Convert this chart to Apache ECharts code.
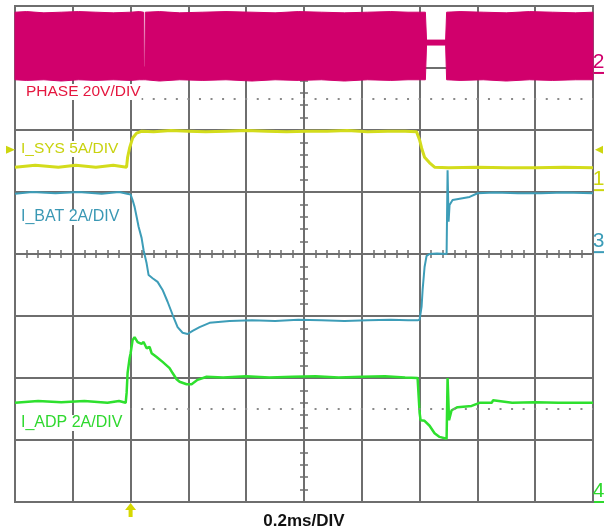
<!DOCTYPE html>
<html><head><meta charset="utf-8">
<script src="https://cdn.jsdelivr.net/npm/echarts@6/dist/echarts.min.js"></script>
<style>html,body{margin:0;padding:0;background:#fff}#c{width:608px;height:532px}</style>
</head><body><div id="c"></div>
<script>
// Time in µs (0.2 ms/DIV, trigger at 0); amplitude in screen divisions (screen centre = 0)
const timeTicks = [-400, -200, 0, 200, 400, 600, 800, 1000, 1200, 1400, 1600];
const divTicks = [-4, -3, -2, -1, 0, 1, 2, 3, 4];

// PHASE 20V/DIV (switch node: drawn as its switching envelope)
const phaseT =     [-400,-360,-300,-240,-180,-120,-60,0,30,45,46.5,49.5,51,100,170,250,330,420,500,580,660,740,820,900,960,1020,1024,1090,1093.5,1140,1220,1300,1380,1460,1540,1600];
const phaseUpper = [3.90,3.91,3.89,3.90,3.91,3.90,3.89,3.90,3.91,3.90,3.02,3.02,3.90,3.91,3.89,3.90,3.91,3.90,3.89,3.91,3.90,3.89,3.90,3.91,3.90,3.90,3.45,3.45,3.90,3.91,3.90,3.89,3.91,3.90,3.89,3.90];
const phaseLower = [2.81,2.80,2.81,2.79,2.81,2.80,2.81,2.80,2.81,2.81,2.81,2.81,2.81,2.79,2.81,2.80,2.81,2.79,2.81,2.80,2.81,2.79,2.81,2.80,2.81,2.81,3.37,3.37,2.81,2.80,2.81,2.79,2.81,2.80,2.81,2.81];

// I_SYS 5A/DIV
const sysT = [-400,-330,-326,-250,-190,-186,-120,-60,-56,-14,-10.4,-3.5,6.9,20.8,38,80,140,200,260,330,400,470,540,610,680,750,820,890,950,989.6,1000,1006.9,1017.2,1034.5,1051.8,1100,1200,1300,1400,1500,1600];
const sysV = [1.40,1.43,1.40,1.40,1.43,1.40,1.40,1.43,1.40,1.40,1.56,1.71,1.87,1.95,1.98,1.97,1.99,1.98,1.97,1.98,1.99,1.98,1.97,1.98,1.98,1.99,1.97,1.98,1.98,1.97,1.84,1.71,1.56,1.47,1.40,1.39,1.40,1.39,1.39,1.40,1.39];

// I_BAT 2A/DIV
const batT = [-400,-340,-336,-260,-180,-176,-100,-40,-36,0,6.9,13.8,20.8,27.7,38,45,55.4,62.3,76.1,93.4,110.7,128,145.3,162.6,179.9,197.2,214.5,238.7,273.3,342.5,420,500,580,660,740,820,900,960,993,1000,1006.9,1010.4,1017.2,1024.1,1034.5,1060,1093.4,1096.8,1100.3,1103.7,1114.1,1173,1200.6,1260,1340,1380,1384,1420,1500,1600];
const batV = [0.97,1.00,0.97,0.98,1.00,0.97,0.97,1.00,0.97,0.96,0.87,0.76,0.60,0.44,0.26,0.06,-0.15,-0.34,-0.39,-0.45,-0.58,-0.77,-0.98,-1.18,-1.27,-1.29,-1.24,-1.18,-1.11,-1.08,-1.07,-1.08,-1.06,-1.07,-1.08,-1.07,-1.06,-1.07,-1.07,-1.06,-0.85,-0.58,-0.21,-0.03,0.00,0.01,0.00,1.35,0.52,0.79,0.87,0.92,0.98,0.99,0.98,0.98,0.95,0.98,0.99,0.98];

// I_ADP 2A/DIV
const adpT = [-400,-320,-316,-240,-160,-156,-80,-40,-36,-17,-13.8,-10.4,-3.5,0,6.9,13.8,24.2,31.1,38,45,55.4,65.7,72.7,90,110.7,134.9,145.3,159.2,169.5,193.8,211,231.8,263,320,400,480,560,640,720,800,880,950,993,996.5,1000,1003.4,1017.2,1034.5,1051.8,1069.1,1093.4,1096.8,1101.9,1110.7,1131.4,1179.9,1207.5,1250,1254,1320,1400,1480,1520,1524,1600];
const adpV = [-2.40,-2.37,-2.40,-2.39,-2.37,-2.40,-2.40,-2.37,-2.40,-2.40,-2.24,-1.92,-1.68,-1.60,-1.39,-1.34,-1.42,-1.39,-1.45,-1.42,-1.52,-1.50,-1.60,-1.66,-1.74,-1.84,-1.92,-2.02,-2.06,-2.10,-2.10,-2.03,-1.98,-1.99,-1.97,-1.99,-1.98,-1.97,-1.99,-1.98,-1.97,-1.99,-2.00,-2.02,-2.56,-2.68,-2.69,-2.77,-2.89,-2.95,-2.98,-2.00,-2.68,-2.52,-2.47,-2.45,-2.40,-2.40,-2.36,-2.40,-2.39,-2.40,-2.40,-2.37,-2.40];

// Cursor dotted lines (divisions) and channel reference markers
const cursorLevels = [2.5, -2.5];
const triggerTime = 0;
const triggerLevel = 1.68;
const channelMarks = [
  {name: '2', level: 2.92, color: '#d1006c'},
  {name: '1', level: 1.03, color: '#cdd60f'},
  {name: '3', level: 0.03, color: '#3d9db8'},
  {name: '4', level: -4.0, color: '#2ed82e'}
];
const labels = [
  {text: 'PHASE 20V/DIV', x: 25, y: 92, color: '#e5173f', size: 15.5},
  {text: 'I_SYS 5A/DIV', x: 20, y: 149, color: '#c8d20e', size: 15.5},
  {text: 'I_BAT 2A/DIV', x: 20, y: 217, color: '#3a98b4', size: 16},
  {text: 'I_ADP 2A/DIV', x: 20, y: 423, color: '#2ed82e', size: 16}
];

const zip = (a, b) => a.map((t, i) => [t, b[i]]);
const gridGray = '#6e6e6e';
const FONT = '"Liberation Sans", Arial, Helvetica, sans-serif';

const chart = echarts.init(document.getElementById('c'), null, {renderer: 'canvas'});

const xBase = {
  type: 'value', gridIndex: 0,
  min: timeTicks[0], max: timeTicks[timeTicks.length - 1], interval: timeTicks[1] - timeTicks[0],
  axisLabel: {show: false}, position: 'bottom'
};
const yBase = {
  type: 'value', gridIndex: 0,
  min: divTicks[0], max: divTicks[divTicks.length - 1], interval: 1,
  axisLabel: {show: false}
};
const tickStyle = {color: gridGray, width: 1.5};

const option = {
  animation: false,
  backgroundColor: '#fff',
  grid: {left: 15, right: 15, top: 6, bottom: 30, show: true, borderColor: gridGray, borderWidth: 2, backgroundColor: '#fff'},
  xAxis: [
    Object.assign({}, xBase, {
      axisLine: {show: true, onZero: true, lineStyle: {color: gridGray, width: 2}},
      axisTick: {show: true, inside: true, length: 4, lineStyle: tickStyle},
      minorTick: {show: true, splitNumber: 5, length: 4, lineStyle: tickStyle},
      splitLine: {show: true, lineStyle: {color: gridGray, width: 2}}
    }),
    Object.assign({}, xBase, {
      axisLine: {show: true, onZero: true, lineStyle: {color: gridGray, width: 2}},
      axisTick: {show: true, inside: false, length: 4, lineStyle: tickStyle},
      minorTick: {show: true, splitNumber: 5, length: 4, lineStyle: tickStyle},
      splitLine: {show: false}
    })
  ],
  yAxis: [
    Object.assign({}, yBase, {
      axisLine: {show: false, onZero: false}, axisTick: {show: false},
      splitLine: {show: true, lineStyle: {color: gridGray, width: 2}}
    }),
    Object.assign({}, yBase, {
      position: 'left', offset: -289,
      axisLine: {show: true, onZero: false, lineStyle: {color: gridGray, width: 2}},
      axisTick: {show: true, inside: true, length: 4, lineStyle: tickStyle},
      minorTick: {show: true, splitNumber: 5, length: 4, lineStyle: tickStyle},
      splitLine: {show: false}
    }),
    Object.assign({}, yBase, {
      position: 'left', offset: -289,
      axisLine: {show: true, onZero: false, lineStyle: {color: gridGray, width: 2}},
      axisTick: {show: true, inside: false, length: 4, lineStyle: tickStyle},
      minorTick: {show: true, splitNumber: 5, length: 4, lineStyle: tickStyle},
      splitLine: {show: false}
    })
  ],
  series: [
    {
      name: 'PHASE', type: 'custom', silent: true, z: 3,
      data: phaseT.map((t, i) => [t, phaseUpper[i], phaseLower[i]]),
      encode: {x: 0, y: [1, 2]},
      renderItem: function (params, api) {
        if (params.dataIndex !== 0) return null;
        const top = phaseT.map((t, i) => api.coord([t, phaseUpper[i]]));
        const bot = phaseT.map((t, i) => api.coord([t, phaseLower[i]])).reverse();
        return {
          type: 'polygon',
          shape: {points: top.concat(bot)},
          style: {fill: '#d1006c', stroke: '#d1006c', lineWidth: 1}
        };
      }
    },
    {
      name: 'I_SYS', type: 'line', symbol: 'none', silent: true,
      data: zip(sysT, sysV),
      lineStyle: {width: 3, color: '#d3dc1c'},
      markLine: {
        silent: true, symbol: 'none', label: {show: false},
        lineStyle: {type: [2, 9.56], dashOffset: 1, color: '#8a8a8a', width: 2},
        data: cursorLevels.map(v => [{coord: [0, v]}, {coord: [timeTicks[timeTicks.length - 1], v]}])
      }
    },
    {
      name: 'I_BAT', type: 'line', symbol: 'none', silent: true,
      data: zip(batT, batV),
      lineStyle: {width: 2, color: '#3d9db8'}
    },
    {
      name: 'I_ADP', type: 'line', symbol: 'none', silent: true,
      data: zip(adpT, adpV),
      lineStyle: {width: 2.5, color: '#2ee02e'}
    }
  ]
};
chart.setOption(option);

// Decorations positioned from the axes
const toPx = (t, v) => chart.convertToPixel({gridIndex: 0}, [t, v]);
const right = toPx(timeTicks[timeTicks.length - 1], 0)[0];
const left = toPx(timeTicks[0], 0)[0];
const graphics = [];

labels.forEach(l => graphics.push({
  type: 'text', z: 50,
  style: {x: l.x, y: l.y, text: l.text, fill: l.color, font: l.size + 'px ' + FONT,
          align: 'left', verticalAlign: 'middle', backgroundColor: '#fff', padding: [0, 1]}
}));

graphics.push({
  type: 'text', z: 50,
  style: {x: (left + right) / 2, y: 521, text: '0.2ms/DIV', fill: '#111',
          font: 'bold 17px ' + FONT, align: 'center', verticalAlign: 'middle'}
});

channelMarks.forEach(c => {
  const y = toPx(0, c.level)[1];
  graphics.push({
    type: 'text', z: 50,
    style: {x: right + 5.5, y: y - 11, text: c.name, fill: c.color,
            font: '21px "Liberation Sans Narrow", ' + FONT, align: 'center', verticalAlign: 'middle'}
  });
  graphics.push({type: 'rect', z: 50, shape: {x: right + 1, y: y - 1, width: 10, height: 2}, style: {fill: c.color}});
});

// trigger level markers (left and right) and trigger time marker (bottom)
const ty = toPx(0, triggerLevel)[1];
graphics.push({type: 'polygon', z: 50, shape: {points: [[left - 9, ty - 4], [left, ty], [left - 9, ty + 4]]}, style: {fill: '#cdd60f'}});
graphics.push({type: 'polygon', z: 50, shape: {points: [[right + 10, ty - 4], [right + 2, ty], [right + 10, ty + 4]]}, style: {fill: '#cdd60f'}});
const tx = toPx(triggerTime, -4)[0];
const by = toPx(triggerTime, -4)[1];
graphics.push({
  type: 'polygon', z: 50,
  shape: {points: [[tx, by + 1], [tx + 5.5, by + 8], [tx + 2, by + 8], [tx + 2, by + 15], [tx - 2, by + 15], [tx - 2, by + 8], [tx - 5.5, by + 8]]},
  style: {fill: '#d6d800'}
});

chart.setOption({graphic: graphics});
</script>
</body></html>
